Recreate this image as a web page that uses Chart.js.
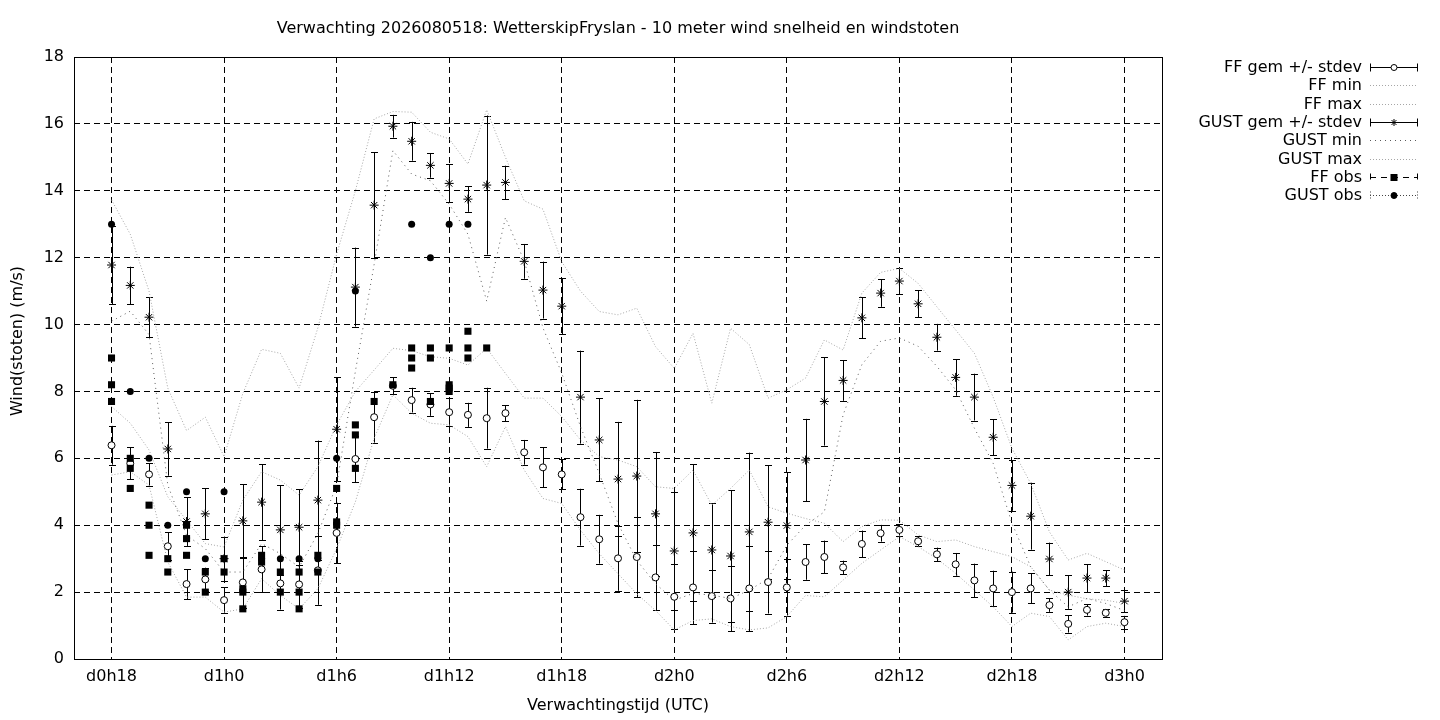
<!DOCTYPE html>
<html>
<head>
<meta charset="utf-8">
<script src="https://cdn.jsdelivr.net/npm/chart.js@4/dist/chart.umd.min.js"></script>
<style>
  html, body { margin: 0; padding: 0; background: #fff; }
  canvas { display: block; }
</style>
</head>
<body>
<canvas id="chart-wind" width="1440" height="720"></canvas>
<script>
// forecast hours since d0h0
const hours = [18,19,20,21,22,23,24,25,26,27,28,29,30,31,32,33,34,35,36,37,38,39,40,41,42,43,44,45,
  46,47,48,49,50,51,52,53,54,55,56,57,58,59,60,61,62,63,64,65,66,67,68,69,70,71,72];

const tickHours = [18, 24, 30, 36, 42, 48, 54, 60, 66, 72];
const tickLabels = ['d0h18', 'd1h0', 'd1h6', 'd1h12', 'd1h18', 'd2h0', 'd2h6', 'd2h12', 'd2h18', 'd3h0'];

// ensemble mean wind speed + stdev
const ffMean = [6.39,5.85,5.52,3.37,2.24,2.38,1.76,2.29,2.68,2.26,2.23,2.65,3.77,5.98,7.23,8.17,7.74,7.61,
  7.38,7.30,7.20,7.35,6.18,5.73,5.52,4.24,3.58,3.01,3.05,2.44,1.86,2.14,1.88,1.81,2.11,2.30,2.14,2.90,
  3.05,2.74,3.44,3.76,3.86,3.52,3.13,2.83,2.35,2.11,2.00,2.11,1.61,1.05,1.47,1.38,1.10];
const ffSd = [0.58,0.48,0.34,0.42,0.45,0.35,0.39,0.77,0.69,0.78,0.70,1.03,0.90,0.70,0.76,0.26,0.37,0.34,
  0.41,0.36,0.91,0.24,0.37,0.60,0.45,0.85,0.73,0.97,1.20,0.98,0.97,1.10,0.79,0.98,1.28,0.94,0.84,0.53,
  0.49,0.20,0.40,0.25,0.17,0.15,0.20,0.34,0.50,0.53,0.61,0.45,0.20,0.26,0.17,0.11,0.19];
const ffMin = [5.5,5.6,5.2,2.9,1.85,1.85,1.4,1.5,2.4,1.9,1.5,2.1,3.3,4.7,6.6,7.9,7.35,7.05,7.0,6.65,
  5.75,6.95,5.65,4.8,4.65,3.85,3.15,2.55,1.95,1.45,0.87,1.15,1.2,0.97,0.87,0.93,1.27,1.9,1.86,2.36,
  2.86,3.26,3.66,3.36,3.0,2.56,2.06,1.56,0.97,1.37,1.27,0.57,0.97,1.07,0.97];
const ffMax = [7.55,7.05,6.25,4.85,4.15,3.45,3.35,4.75,5.6,5.35,4.9,5.75,7.0,8.0,8.64,9.29,9.22,9.04,
  8.99,8.79,9.29,8.54,7.8,7.8,7.25,6.55,6.05,5.95,5.75,5.15,5.1,5.65,4.6,5.1,5.65,4.55,4.36,4.2,4.06,
  3.51,3.96,4.16,4.15,3.71,3.51,3.56,3.36,3.21,3.06,2.76,2.06,1.91,1.8,1.76,1.66];

// ensemble mean gusts + stdev
const gustMean = [11.78,11.17,10.22,6.28,4.11,4.34,3.00,4.13,4.69,3.86,3.94,4.75,6.87,11.12,13.57,15.93,
  15.48,14.76,14.22,13.75,14.17,14.25,11.89,11.03,10.55,7.83,6.55,5.38,5.47,4.34,3.23,3.77,3.26,3.08,
  3.80,4.09,3.99,5.95,7.70,8.33,10.20,10.94,11.30,10.62,9.62,8.42,7.83,6.63,5.19,4.27,2.99,2.00,2.42,
  2.42,1.73];
const gustSd = [1.17,0.56,0.60,0.80,0.73,0.76,0.66,1.10,1.14,1.34,1.14,1.78,1.55,1.18,1.58,0.34,0.58,0.37,
  0.57,0.38,2.08,0.50,0.52,0.85,0.84,1.39,1.24,1.71,2.28,1.85,1.75,2.05,1.40,1.97,2.37,1.70,1.60,1.23,
  1.32,0.61,0.61,0.41,0.40,0.40,0.40,0.55,0.70,0.54,0.76,1.00,0.49,0.50,0.42,0.24,0.33];
const gustMin = [10.1,10.4,9.7,5.2,3.7,3.3,2.6,2.6,3.45,3.15,2.75,3.75,5.2,8.6,11.8,15.2,14.5,14.3,13.6,
  12.7,10.7,13.2,11.9,9.9,8.55,6.95,5.55,4.05,2.95,2.25,1.76,1.96,1.91,1.81,2.06,2.4,3.4,4.0,4.4,7.3,
  8.8,9.5,9.6,9.35,8.75,8.05,6.9,5.85,4.06,2.76,2.06,1.56,1.81,1.66,1.45];
const gustMax = [13.73,12.7,11.0,8.1,6.83,7.23,6.05,7.94,9.26,9.14,8.1,9.9,12.1,14.0,16.15,16.37,16.35,
  15.75,15.55,14.8,16.42,15.0,13.7,13.45,11.88,11.0,10.39,10.29,10.49,9.34,8.69,9.74,7.65,9.89,9.4,7.8,
  8.05,8.4,9.54,9.24,10.94,11.56,11.68,11.23,10.53,9.84,9.14,7.83,6.3,5.25,3.8,2.96,3.16,2.91,2.66];

// observations (several 10-min values per hour for FF)
const ffObsHours = [18,18,18,19,19,19,20,20,20,21,21,22,22,22,23,23,24,24,25,25,25,26,26,27,27,28,28,28,
  29,29,30,30,30,31,31,31,32,33,34,34,34,35,35,35,36,36,36,36,37,37,37,38];
const ffObsValues = [9.0,8.2,7.7,6.0,5.7,5.1,4.6,4.0,3.1,3.0,2.6,4.0,3.6,3.1,2.6,2.0,3.0,2.6,2.1,2.0,1.5,
  3.1,2.9,2.6,2.0,2.6,2.0,1.5,3.1,2.6,5.1,4.1,4.0,7.0,6.7,5.7,7.7,8.2,9.3,9.0,8.7,9.3,9.0,7.7,9.3,8.2,
  8.1,8.0,9.8,9.3,9.0,9.3];
const gustObsHours = [18,19,20,21,22,23,24,26,27,28,29,30,31,34,35,36,37];
const gustObsValues = [13,8,6,4,5,3,5,3,3,3,3,6,11,13,12,13,13];

const titleText = 'Verwachting 2026080518: WetterskipFryslan - 10 meter wind snelheid en windstoten';
const xTitle = 'Verwachtingstijd (UTC)';
const yTitle = 'Wind(stoten) (m/s)';

const FONT = "'DejaVu Sans', sans-serif";
const FONT_SIZE = 16;
const LIGHT = '#a6a6a6';

function pts(xs, ys) {
  return xs.map((x, i) => ({ x: x, y: ys[i] }));
}

// vertical error bars for datasets that carry an sd array
const errorBarPlugin = {
  id: 'errorBars',
  beforeDatasetsDraw(chart) {
    const { ctx, scales: { x, y } } = chart;
    ctx.save();
    ctx.strokeStyle = '#000';
    ctx.lineWidth = 1;
    chart.data.datasets.forEach(ds => {
      if (!ds.sd) return;
      ds.data.forEach((p, i) => {
        const px = Math.round(x.getPixelForValue(p.x)) + 0.5;
        const top = y.getPixelForValue(p.y + ds.sd[i]);
        const bot = y.getPixelForValue(p.y - ds.sd[i]);
        ctx.beginPath();
        ctx.moveTo(px, top); ctx.lineTo(px, bot);
        ctx.moveTo(px - 3.5, Math.round(top) + 0.5); ctx.lineTo(px + 3.5, Math.round(top) + 0.5);
        ctx.moveTo(px - 3.5, Math.round(bot) + 0.5); ctx.lineTo(px + 3.5, Math.round(bot) + 0.5);
        ctx.stroke();
      });
    });
    ctx.restore();
  }
};

// titles, frame and the gnuplot-like key on the right
const decorPlugin = {
  id: 'decor',
  afterDraw(chart) {
    const { ctx, chartArea: a } = chart;
    ctx.save();
    ctx.strokeStyle = '#000';
    ctx.lineWidth = 1;
    ctx.setLineDash([]);
    ctx.strokeRect(a.left + 0.5, a.top + 0.5, a.right - a.left, a.bottom - a.top);

    ctx.fillStyle = '#000';
    ctx.font = FONT_SIZE + 'px ' + FONT;
    ctx.textAlign = 'center';
    ctx.textBaseline = 'middle';
    const cx = (a.left + a.right) / 2;
    ctx.fillText(titleText, cx, 29);
    ctx.fillText(xTitle, cx, 706);
    ctx.save();
    ctx.translate(18, 341);
    ctx.rotate(-Math.PI / 2);
    ctx.fillText(yTitle, 0, 0);
    ctx.restore();

    // key
    const x0 = 1370, x1 = 1418, xm = (x0 + x1) / 2;
    chart.data.datasets.forEach((ds) => {
      const yy = Math.round(67 + ds.keyRow * 18.3) + 0.5;
      ctx.textAlign = 'right';
      ctx.fillStyle = '#000';
      ctx.fillText(ds.label, 1362, yy);
      ctx.save();
      ctx.lineWidth = 1;
      ctx.strokeStyle = ds.keyColor || '#000';
      ctx.setLineDash(ds.keyDash || []);
      ctx.beginPath();
      ctx.moveTo(x0, yy); ctx.lineTo(x1, yy);
      ctx.stroke();
      if (ds.keyCaps) {
        ctx.beginPath();
        ctx.moveTo(x0 + 0.5, yy - 4); ctx.lineTo(x0 + 0.5, yy + 4);
        ctx.moveTo(x1 - 0.5, yy - 4); ctx.lineTo(x1 - 0.5, yy + 4);
        ctx.stroke();
      }
      ctx.setLineDash([]);
      ctx.strokeStyle = '#000';
      if (ds.pointStyle === 'circle' && ds.pointRadius > 0) {
        ctx.beginPath();
        ctx.arc(xm, yy, 3, 0, Math.PI * 2);
        ctx.fillStyle = ds.pointBackgroundColor;
        ctx.fill();
        ctx.stroke();
      } else if (ds.pointStyle === 'star') {
        const r = 3.5;
        ctx.beginPath();
        ctx.moveTo(xm - r, yy); ctx.lineTo(xm + r, yy);
        ctx.moveTo(xm, yy - r); ctx.lineTo(xm, yy + r);
        ctx.moveTo(xm - r * 0.7, yy - r * 0.7); ctx.lineTo(xm + r * 0.7, yy + r * 0.7);
        ctx.moveTo(xm - r * 0.7, yy + r * 0.7); ctx.lineTo(xm + r * 0.7, yy - r * 0.7);
        ctx.stroke();
      } else if (ds.pointStyle === 'rect') {
        ctx.fillStyle = '#000';
        ctx.fillRect(xm - 3.5, yy - 3.5, 7, 7);
      }
      ctx.restore();
    });
    ctx.restore();
  }
};

function rangeLine(label, values, color, dash, row, order) {
  return {
    label: label,
    data: pts(hours, values),
    showLine: true,
    borderColor: color,
    borderWidth: 1,
    borderDash: dash,
    pointRadius: 0,
    tension: 0,
    fill: false,
    order: order,
    keyRow: row,
    keyColor: color,
    keyDash: dash
  };
}

new Chart(document.getElementById('chart-wind'), {
  type: 'scatter',
  data: {
    datasets: [
      {
        label: 'FF gem +/- stdev',
        data: pts(hours, ffMean),
        sd: ffSd,
        showLine: false,
        pointStyle: 'circle',
        pointRadius: 3.5,
        pointBackgroundColor: '#fff',
        pointBorderColor: '#000',
        pointBorderWidth: 1,
        order: 8,
        keyRow: 0,
        keyCaps: true
      },
      rangeLine('FF min', ffMin, LIGHT, [1, 2], 1, 7),
      rangeLine('FF max', ffMax, LIGHT, [1, 2], 2, 6),
      {
        label: 'GUST gem +/- stdev',
        data: pts(hours, gustMean),
        sd: gustSd,
        showLine: false,
        pointStyle: 'star',
        pointRadius: 4.5,
        pointBorderColor: '#000',
        pointBorderWidth: 1,
        order: 5,
        keyRow: 3,
        keyCaps: true
      },
      rangeLine('GUST min', gustMin, '#5a5a5a', [1, 4], 4, 4),
      rangeLine('GUST max', gustMax, LIGHT, [1, 2], 5, 3),
      {
        label: 'FF obs',
        data: pts(ffObsHours, ffObsValues),
        showLine: false,
        pointStyle: 'rect',
        pointRadius: 5,
        pointBackgroundColor: '#000',
        pointBorderColor: '#000',
        pointBorderWidth: 0,
        order: 2,
        keyRow: 6,
        keyDash: [6, 5],
        keyCaps: true
      },
      {
        label: 'GUST obs',
        data: pts(gustObsHours, gustObsValues),
        showLine: false,
        pointStyle: 'circle',
        pointRadius: 3.5,
        pointBackgroundColor: '#000',
        pointBorderColor: '#000',
        pointBorderWidth: 0,
        order: 1,
        keyRow: 7,
        keyColor: '#444',
        keyDash: [1, 2],
        keyCaps: true
      }
    ]
  },
  options: {
    responsive: false,
    devicePixelRatio: 1,
    animation: false,
    events: [],
    layout: { padding: { top: 57, right: 278, left: 0, bottom: 0 } },
    plugins: {
      legend: { display: false },
      title: { display: false },
      tooltip: { enabled: false }
    },
    scales: {
      x: {
        type: 'linear',
        min: 16,
        max: 74,
        afterBuildTicks: (s) => { s.ticks = tickHours.map(v => ({ value: v })); },
        afterFit: (s) => { s.height = 61; },
        grid: { color: '#000', lineWidth: 1, drawTicks: false },
        border: { display: false, dash: [6, 4] },
        ticks: {
          autoSkip: false,
          maxRotation: 0,
          padding: 8,
          color: '#000',
          font: { family: FONT, size: FONT_SIZE },
          callback: (v) => tickLabels[tickHours.indexOf(v)]
        }
      },
      y: {
        min: 0,
        max: 18,
        afterFit: (s) => { s.width = 74; },
        grid: { color: '#000', lineWidth: 1, drawTicks: false },
        border: { display: false, dash: [6, 4] },
        ticks: {
          stepSize: 2,
          padding: 10,
          color: '#000',
          font: { family: FONT, size: FONT_SIZE }
        }
      }
    }
  },
  plugins: [errorBarPlugin, decorPlugin]
});
</script>
</body>
</html>
